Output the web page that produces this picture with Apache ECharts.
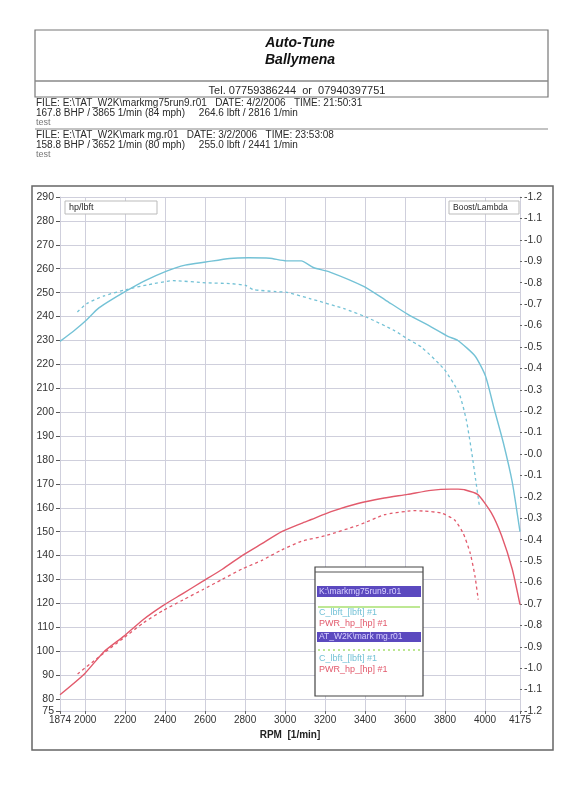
<!DOCTYPE html>
<html>
<head>
<meta charset="utf-8">
<script src="https://cdn.jsdelivr.net/npm/echarts@6/dist/echarts.min.js"></script>
<style>
html,body{margin:0;padding:0;background:#ffffff;}
#chart{width:582px;height:800px;}
</style>
</head>
<body>
<div id="chart"></div>
<script>
// ---- data (read from the dyno sheet) ----
const rpmTorqueRun9 = [1874,1950,2008,2060,2110,2206,2300,2404,2500,2603,2723,2816,2923,3006,3081,3141,3224,3393,3500,3612,3730,3817,3864,3950,4002,4046,4091,4136,4175];
const torqueRun9    = [229.6,234.5,238.7,243.0,245.9,250.7,255.0,258.9,261.5,262.8,264.3,264.6,264.4,263.3,263.3,260.5,258.6,252.6,247.0,241.0,235.7,231.6,230.0,223.5,215.2,201.3,187.4,170.8,150.0];

const rpmPowerRun9 = [1874,1996,2094,2192,2291,2389,2488,2587,2686,2785,2884,2983,3082,3131,3230,3364,3496,3613,3729,3829,3865,3895,3963,4031,4083,4136,4175];
const powerRun9    = [81.8,90.5,99.8,106.2,113.3,119.1,124.1,129.2,134.3,140.0,145.0,150.0,153.5,155.1,158.4,161.8,164.1,165.6,167.3,167.8,167.8,167.6,165.6,158.0,148.3,134.4,119.5];

const rpmTorqueMg = [1961,2008,2093,2206,2309,2441,2603,2723,2803,2840,2956,3010,3124,3295,3408,3547,3615,3682,3795,3870,3906,3934,3953,3972];
const torqueMg    = [241.9,245.4,248.6,251.3,253.2,255.0,254.1,253.8,253.0,251.3,250.4,250.1,247.5,243.3,239.7,234.1,230.5,227.2,218.0,207.9,196.9,182.9,171.8,160.7];

const rpmPowerMg = [1962,2091,2192,2291,2389,2488,2587,2686,2785,2884,2983,3082,3200,3366,3498,3614,3652,3697,3781,3848,3891,3926,3950,3966];
const powerMg    = [90.5,99.1,105.5,111.9,117.0,121.4,125.7,130.1,134.4,138.0,142.4,146.0,148.3,152.7,157.1,158.6,158.8,158.6,157.8,154.9,149.3,141.0,131.3,121.6];

const rpmTicks = [1874,2000,2200,2400,2600,2800,3000,3200,3400,3600,3800,4000,4175];
const leftTicks = [75,80,90,100,110,120,130,140,150,160,170,180,190,200,210,220,230,240,250,260,270,280,290];
const rightTicks = [-1.2,-1.1,-1.0,-0.9,-0.8,-0.7,-0.6,-0.5,-0.4,-0.3,-0.2,-0.1,0,0.1,0.2,0.3,0.4,0.5,0.6,0.7,0.8,0.9,1.0,1.1,1.2];

const headerTitle = 'Auto-Tune';
const headerSub = 'Ballymena';
const headerTel = 'Tel. 07759386244  or  07940397751';
const file1 = 'FILE: E:\\TAT_W2K\\markmg75run9.r01   DATE: 4/2/2006   TIME: 21:50:31';
const file1b = '167.8 BHP / 3865 1/min (84 mph)     264.6 lbft / 2816 1/min';
const file2 = 'FILE: E:\\TAT_W2K\\mark mg.r01   DATE: 3/2/2006   TIME: 23:53:08';
const file2b = '158.8 BHP / 3652 1/min (80 mph)     255.0 lbft / 2441 1/min';

// ---- layout ----
const G = {left: 60, top: 197, right: 520, bottom: 711};
const CYAN = '#74c2d6';
const RED = '#e25a6c';
const GRID = '#cfcfdc';
const FONT = '"Liberation Sans", Arial, sans-serif';

function zip(xs, ys){ return xs.map((x,i)=>[x, ys[i]]); }

const chart = echarts.init(document.getElementById('chart'), null, {renderer:'canvas'});

const LX = 315, LY = 567, LW = 108, LH = 129;

function txt(text, x, y, opt){
  opt = opt || {};
  return {type:'text', silent:true, z:100, style:{
    text:text, x:x, y:y, fill:opt.fill||'#2a2a2a',
    font:(opt.font||'10px') + ' ' + FONT,
    textAlign:opt.align||'left', align:opt.align||'left',
    textVerticalAlign:'middle', verticalAlign:'middle'}};
}
function hline(x1,x2,y,color,w,dash){
  return {type:'line', silent:true, z:100, shape:{x1:x1,y1:y,x2:x2,y2:y},
    style:{stroke:color||'#666', lineWidth:w||1, lineDash:dash||null}};
}

const graphics = [
  // header box
  {type:'rect', silent:true, shape:{x:35,y:30,width:513,height:67}, style:{fill:'none', stroke:'#777', lineWidth:1.2}},
  hline(35,548,81,'#888',1.5),
  hline(35,548,129,'#888',1.2),
  txt(headerTitle, 300, 43, {font:'italic bold 14px', align:'center', fill:'#111'}),
  txt(headerSub, 300, 60, {font:'italic bold 14px', align:'center', fill:'#111'}),
  txt(headerTel, 297, 91, {font:'11px', align:'center'}),
  txt(file1, 36, 103, {font:'10px'}),
  txt(file1b, 36, 113, {font:'10px'}),
  txt('test', 36, 123, {font:'9px', fill:'#777'}),
  txt(file2, 36, 135, {font:'10px'}),
  txt(file2b, 36, 145, {font:'10px'}),
  txt('test', 36, 155, {font:'9px', fill:'#777'}),
  // chart frame
  {type:'rect', silent:true, shape:{x:32,y:186,width:521,height:564}, style:{fill:'none', stroke:'#666', lineWidth:1.5}},
  // hp/lbft label box
  {type:'rect', silent:true, z:90, shape:{x:G.left+5,y:G.top+4,width:92,height:13}, style:{fill:'#fff', stroke:'#bbb', lineWidth:1}},
  txt('hp/lbft', G.left+9, G.top+10.5, {font:'9px'}),
  // Boost/Lambda label box
  {type:'rect', silent:true, z:90, shape:{x:G.right-71,y:G.top+4,width:70,height:13}, style:{fill:'#fff', stroke:'#bbb', lineWidth:1}},
  txt('Boost/Lambda', G.right-67, G.top+10.5, {font:'8.5px'}),
  // legend box
  {type:'rect', silent:true, z:95, shape:{x:LX,y:LY,width:LW,height:LH}, style:{fill:'#fff', stroke:'#444', lineWidth:1.2}},
  hline(LX, LX+LW, LY+5, '#555', 1),
  {type:'rect', silent:true, z:100, shape:{x:LX+2,y:LY+19,width:LW-4,height:11}, style:{fill:'#5b49bf'}},
  txt('K:\\markmg75run9.r01', LX+4, LY+24.5, {font:'8.5px', fill:'#d9d2ff'}),
  hline(LX+3, LX+LW-3, LY+40, '#a8e070', 1.3),
  txt('C_lbft_[lbft] #1', LX+4, LY+46, {font:'9px', fill:CYAN}),
  txt('PWR_hp_[hp] #1', LX+4, LY+57, {font:'9px', fill:RED}),
  {type:'rect', silent:true, z:100, shape:{x:LX+2,y:LY+65,width:LW-4,height:10}, style:{fill:'#5b49bf'}},
  txt('AT_W2K\\mark mg.r01', LX+4, LY+70, {font:'8.5px', fill:'#d9d2ff'}),
  hline(LX+3, LX+LW-3, LY+83, '#a8e070', 1.3, [2,3]),
  txt('C_lbft_[lbft] #1', LX+4, LY+92, {font:'9px', fill:CYAN}),
  txt('PWR_hp_[hp] #1', LX+4, LY+103, {font:'9px', fill:RED})
];

const option = {
  animation: false,
  backgroundColor: '#ffffff',
  textStyle: {fontFamily: FONT},
  grid: {left: G.left, top: G.top, width: G.right - G.left, height: G.bottom - G.top, containLabel: false},
  xAxis: {
    type: 'value', min: 1874, max: 4175,
    name: 'RPM  [1/min]', nameLocation: 'middle', nameGap: 19,
    nameTextStyle: {fontWeight: 'bold', fontSize: 10, color: '#222'},
    axisLine: {show: true, onZero: false, lineStyle: {color: GRID}},
    axisTick: {show: true, inside: false, length: 3, customValues: rpmTicks, lineStyle: {color: '#666'}},
    axisLabel: {customValues: rpmTicks, margin: 4, fontSize: 10, color: '#333',
      showMinLabel: true, showMaxLabel: true, hideOverlap: false,
      formatter: v => String(v)},
    splitLine: {show: true, lineStyle: {color: GRID, width: 1}}
  },
  yAxis: [{
    type: 'value', min: 75, max: 290, position: 'left',
    axisLine: {show: true, onZero: false, lineStyle: {color: GRID}},
    axisTick: {show: true, length: 4, customValues: leftTicks, lineStyle: {color: '#555'}},
    axisLabel: {customValues: leftTicks, margin: 6, fontSize: 10.5, color: '#333',
      showMinLabel: true, showMaxLabel: true, hideOverlap: false},
    splitLine: {show: true, lineStyle: {color: GRID, width: 1}}
  }, {
    type: 'value', min: -1.2, max: 1.2, position: 'right',
    axisLine: {show: true, onZero: false, lineStyle: {color: GRID}},
    axisTick: {show: true, length: 2, customValues: rightTicks, lineStyle: {color: '#666'}},
    axisLabel: {customValues: rightTicks, margin: 4, fontSize: 10.5, color: '#333',
      showMinLabel: true, showMaxLabel: true, hideOverlap: false,
      formatter: v => '-' + Math.abs(v).toFixed(1)},
    splitLine: {show: false}
  }],
  series: [
    {name: 'C_lbft run9', type: 'line', data: zip(rpmTorqueRun9, torqueRun9), showSymbol: false, smooth: 0.2,
      lineStyle: {color: CYAN, width: 1.4}, z: 5},
    {name: 'PWR_hp run9', type: 'line', data: zip(rpmPowerRun9, powerRun9), showSymbol: false, smooth: 0.2,
      lineStyle: {color: RED, width: 1.4}, z: 5},
    {name: 'C_lbft mg', type: 'line', data: zip(rpmTorqueMg, torqueMg), showSymbol: false, smooth: 0.2,
      lineStyle: {color: CYAN, width: 1.3, type: [3, 3]}, z: 4},
    {name: 'PWR_hp mg', type: 'line', data: zip(rpmPowerMg, powerMg), showSymbol: false, smooth: 0.2,
      lineStyle: {color: RED, width: 1.3, type: [3, 3]}, z: 4}
  ],
  graphic: graphics
};
chart.setOption(option);
</script>
</body>
</html>
